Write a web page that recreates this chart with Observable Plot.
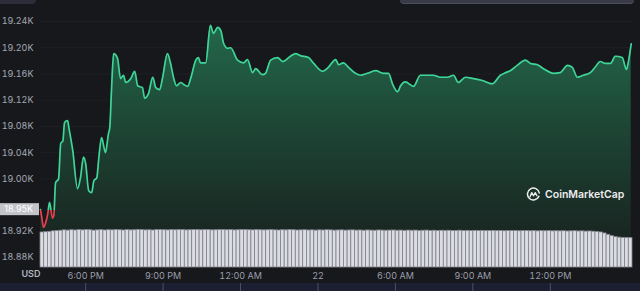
<!DOCTYPE html>
<html><head><meta charset="utf-8">
<script src="https://cdn.jsdelivr.net/npm/d3@7"></script>
<script src="https://cdn.jsdelivr.net/npm/@observablehq/plot@0.6"></script>
<style>
html,body{margin:0;padding:0;background:#17181c;}
#wrap{position:relative;width:640px;height:291px;overflow:hidden;background:linear-gradient(to bottom,#17181c 0,#17181c 283px,#1b1f31 283px);font-family:Inter,sans-serif;}
#wrap svg.chart{position:absolute;left:0;top:0;}
.ui1{position:absolute;left:0;top:0;width:36px;height:4px;background:#2c2d38;border-radius:0 0 4px 0;}
.ui2{position:absolute;left:400px;top:0;width:234px;height:3px;background:#3a3b49;border-bottom:1px solid #4c4d5c;border-radius:0 0 5px 5px;}
.logo{position:absolute;left:526px;top:187px;display:flex;align-items:center;gap:4px;color:#ececef;font:600 10.5px Inter,sans-serif;z-index:5;}
</style></head><body>
<div id="wrap"><div class="ui1"></div><div class="ui2"></div>
<div class="logo"><svg width="15" height="15" viewBox="0 0 24 24"><path d="M20.6 15 A9.5 9.5 0 1 1 21.2 9.5" fill="none" stroke="#ececef" stroke-width="2.4" stroke-linecap="round"/><path d="M6.5 15.5 L9.2 9 L12 14 L14.8 9 L17.5 14" fill="none" stroke="#ececef" stroke-width="2.2" stroke-linejoin="round" stroke-linecap="round"/></svg><span>CoinMarketCap</span></div>
</div>
<script>
// minutes relative to 6:00 PM
const times = [-105,-102,-98,-93,-88,-84,-77,-74,-70,-63,-58,-53,-49,-42,-39,-30,-19,-12,-5,0,7,14,19,26,30,37,46,53,56,60,65,74,81,88,93,105,114,121,132,137,146,156,163,172,179,190,197,204,211,221,228,237,244,256,262,267,279,290,297,307,314,321,330,337,353,367,376,388,395,411,418,430,446,458,476,488,499,518,530,551,564,581,588,599,611,627,639,655,674,692,704,713,725,732,743,762,778,808,825,841,855,866,883,901,922,945,964,976,987,1003,1022,1034,1050,1064,1087,1103,1120,1131,1143,1157,1173,1185,1196,1208,1220,1231,1247,1257,1261,1268];
const prices = [18953,18941,18926,18933,18947,18964,18940,18944,18994,19000,19054,19058,19086,19089,19078,19043,18985,19002,19033,19023,18982,18979,18997,19002,19028,19063,19040,19069,19078,19135,19191,19184,19153,19158,19147,19153,19164,19142,19139,19123,19130,19155,19139,19136,19155,19191,19177,19155,19142,19147,19144,19141,19153,19181,19185,19177,19177,19234,19222,19231,19226,19206,19199,19200,19181,19177,19182,19162,19168,19159,19161,19181,19185,19179,19187,19191,19188,19185,19176,19164,19170,19182,19174,19177,19170,19161,19158,19161,19165,19161,19161,19145,19133,19142,19148,19141,19158,19158,19155,19155,19158,19147,19155,19153,19150,19145,19158,19162,19165,19173,19181,19176,19174,19168,19161,19162,19173,19170,19155,19158,19162,19171,19179,19176,19176,19187,19185,19167,19177,19206];
const openPrice = 18953;
const openLabel = "18.95K";
const yTicks = [18880,18920,19000,19040,19080,19120,19160,19200,19240];
const xTicks = [0,180,360,540,720,900,1080];
const xLabels = ["6:00 PM","9:00 PM","12:00 AM","22","6:00 AM","9:00 AM","12:00 PM"];
const volume = [
28.4,28.6,28.9,29.3,29.6,29.8,30.1,29.9,30.2,30.0,
30.3,30.1,30.4,30.2,29.9,30.1,30.3,30.0,30.2,30.1,
30.4,30.2,30.0,30.3,30.1,30.2,30.5,30.3,30.1,30.2,
30.0,30.3,30.4,30.2,30.1,30.3,30.2,30.4,30.3,30.1,
30.2,30.4,30.3,30.2,30.4,30.3,30.1,30.2,30.3,30.4,
30.2,30.3,30.1,30.2,30.4,30.3,30.2,30.1,30.3,30.2,
30.1,30.2,30.3,30.1,30.0,30.2,30.1,30.3,30.2,30.0,
30.1,30.2,30.0,30.1,29.9,30.1,30.0,30.2,30.1,29.9,
30.0,30.1,29.9,30.0,30.1,29.9,30.0,29.8,30.0,29.9,
29.8,30.0,29.9,29.8,29.9,30.0,29.8,29.9,29.7,29.9,
29.8,29.9,29.7,29.8,29.9,29.7,29.8,29.6,29.8,29.7,
29.8,29.6,29.7,29.8,29.6,29.7,29.5,29.7,29.6,29.7,
29.5,29.6,29.7,29.5,29.6,29.4,29.6,29.5,29.6,29.4,
29.5,29.6,29.4,29.5,29.3,29.5,29.4,29.5,29.3,29.4,
29.3,29.4,29.2,29.3,29.4,29.2,29.3,29.1,29.2,29.0,
28.8,28.4,27.6,26.5,25.4,24.6,24.2,24.0,23.9,23.8];

const data = times.map((t,i)=>({t, p: prices[i]}));
const W = 640, H = 291;
const yDomain = [18864.8, 19240];
const xDomain = [-105, 1271];
const fmtK = d => (d/1000).toFixed(2) + "K";

const price = Plot.plot({
  width: W, height: H,
  marginLeft: 40, marginRight: 8, marginTop: 21, marginBottom: 24,
  style: {background: "transparent", color: "#9a9ea9", fontFamily: "Inter, sans-serif", fontSize: "9px"},
  x: {domain: xDomain},
  y: {domain: yDomain},
  marks: [
    Plot.gridY(yTicks, {stroke: "#ffffff", strokeOpacity: 0.035}),
    Plot.areaY(data, {x: "t", y1: yDomain[0], y2: "p", fill: "url(#areaGrad)", curve: "monotone-x"}),
    Plot.line(data, {x: "t", y: "p", stroke: "url(#lineGrad)", strokeWidth: 1.7, curve: "monotone-x"}),
    Plot.axisY(yTicks, {tickSize: 0, tickPadding: 7, tickFormat: fmtK, label: null, fill: "#a4a8b3"}),
    Plot.axisX(xTicks, {tickSize: 0, tickPadding: 5, tickFormat: d => xLabels[xTicks.indexOf(d)], label: null, fill: "#9a9ea9"}),
    Plot.axisX(xTicks, {text: null, tickSize: 8, dy: 16, stroke: "#4a5072", label: null}),
    Plot.text([openLabel], {frameAnchor: "bottom-left", dx: -19, dy: 9, text: d => "USD", fill: "#b3b6bf", fontSize: 9, fontWeight: 600})
  ]
});
price.classList.add("chart");

const ys = price.scale("y");
const py = ys.apply(openPrice);
const svgP = d3.select(price);
const defs = svgP.insert("defs", ":first-child");
const lg = defs.append("linearGradient").attr("id","lineGrad").attr("gradientUnits","userSpaceOnUse")
  .attr("x1",0).attr("x2",0).attr("y1",0).attr("y2",H);
lg.append("stop").attr("offset", py/H).attr("stop-color","#3dd598");
lg.append("stop").attr("offset", py/H).attr("stop-color","#e8404a");
const ag = defs.append("linearGradient").attr("id","areaGrad").attr("gradientUnits","userSpaceOnUse")
  .attr("x1",0).attr("x2",0).attr("y1", ys.apply(yDomain[1])).attr("y2", ys.apply(yDomain[0]));
ag.append("stop").attr("offset",0).attr("stop-color","#23694c");
ag.append("stop").attr("offset",0.45).attr("stop-color","#1d4434");
ag.append("stop").attr("offset",1).attr("stop-color","#181d1c");

// open-price label box
const g = svgP.append("g");
g.append("rect").attr("x",0).attr("y",py-6).attr("width",39).attr("height",12).attr("fill","#c3c4c9");
g.append("text").attr("x",33).attr("y",py).attr("dy","0.35em").attr("text-anchor","end")
  .attr("fill","#ffffff").attr("font-size",9).attr("font-family","Inter, sans-serif").text(openLabel);

const vol = Plot.plot({
  width: W, height: H,
  marginLeft: 40, marginRight: 8, marginTop: 227.5, marginBottom: 24,
  style: {background: "transparent"},
  x: {type: "band", domain: volume.map((d,i)=>i), padding: 0, axis: null},
  y: {domain: [0, 32], axis: null},
  marks: [
    Plot.barY(volume, {x: (d,i)=>i, y: d=>d, fill: "#dcdde2", stroke: "#7f828c", strokeWidth: 0.8})
  ]
});
vol.classList.add("chart");

const wrap = document.getElementById("wrap");
wrap.appendChild(price);
wrap.appendChild(vol);
</script>
</body></html>
